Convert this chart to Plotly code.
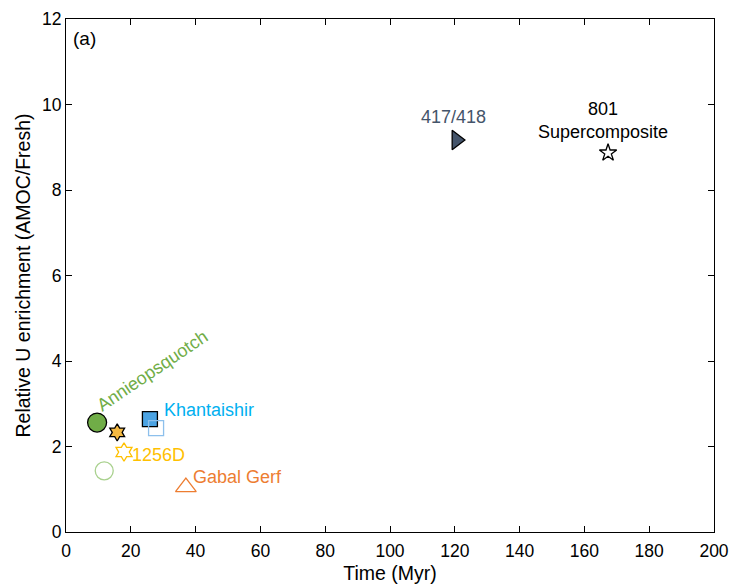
import plotly.graph_objects as go

# Data
names = ["Annieopsquotch AMOC", "1256D AMOC", "Khantaishir AMOC", "Khantaishir fresh",
         "1256D fresh", "Annieopsquotch fresh", "Gabal Gerf", "417/418", "801 Supercomposite"]
time_myr = [9.6, 15.8, 25.9, 27.8, 17.9, 11.8, 37.0, 120.5, 167.3]
u_enrich = [2.56, 2.33, 2.64, 2.43, 1.87, 1.43, 1.05, 9.17, 8.87]
symbols = ["circle", "hexagram", "square", "square-open", "hexagram-open", "circle-open",
           "triangle-up-open", "triangle-right", "star-open"]
fills = ["#70AD47", "#F4B942", "#4BA3E3", "#8DC0EC", "#FFC000", "#A9D18E", "#ED7D31", "#44546A", "black"]
edges = ["black", "black", "black", "#8DC0EC", "#FFC000", "#A9D18E", "#ED7D31", "black", "black"]
sizes = [19, 13, 15, 15, 14, 18, 18, 17, 13]

labels = ["Annieopsquotch", "Khantaishir", "1256D", "Gabal Gerf", "417/418", "801<br>Supercomposite", "(a)"]
label_x = [26.6, 44.0, 28.4, 52.8, 119.5, 165.6, 5.8]
label_y = [3.76, 2.86, 1.8, 1.28, 9.7, 9.63, 11.55]
label_col = ["#70AD47", "#00B0F0", "#FFC000", "#ED7D31", "#44546A", "black", "black"]
label_ang = [-34, 0, 0, 0, 0, 0, 0]
label_size = [18, 18, 18, 18, 18, 18, 19]

fig = go.Figure()
for i in range(len(names)):
    fig.add_trace(go.Scatter(
        x=[time_myr[i]], y=[u_enrich[i]], mode="markers", name=names[i],
        marker=dict(symbol=symbols[i], size=sizes[i], color=fills[i],
                    line=dict(color=edges[i], width=1.3)),
        showlegend=False))

for t, x, y, c, a, s in zip(labels, label_x, label_y, label_col, label_ang, label_size):
    fig.add_annotation(x=x, y=y, text=t, showarrow=False, textangle=a,
                       font=dict(color=c, size=s, family="Liberation Sans, Arial"),
                       xanchor="center", yanchor="middle")

axis_common = dict(showline=True, linecolor="black", linewidth=1.2, mirror="ticks",
                   ticks="inside", ticklen=6, tickcolor="black", showgrid=False,
                   zeroline=False, automargin=False, tickfont=dict(size=17.5, color="black"))
fig.update_xaxes(range=[0, 200], dtick=20, ticklabelstandoff=3,
                 title=dict(text="Time (Myr)", font=dict(size=19.5, color="black"), standoff=6),
                 **axis_common)
fig.update_yaxes(range=[0, 12], dtick=2,
                 title=dict(text="Relative U enrichment (AMOC/Fresh)", font=dict(size=19.5, color="black"), standoff=6),
                 **axis_common)
fig.update_layout(width=731, height=586, plot_bgcolor="white", paper_bgcolor="white",
                  margin=dict(l=66, r=17, t=19, b=54),
                  font=dict(family="Liberation Sans, Arial", color="black"))
fig.write_html("out.html")
